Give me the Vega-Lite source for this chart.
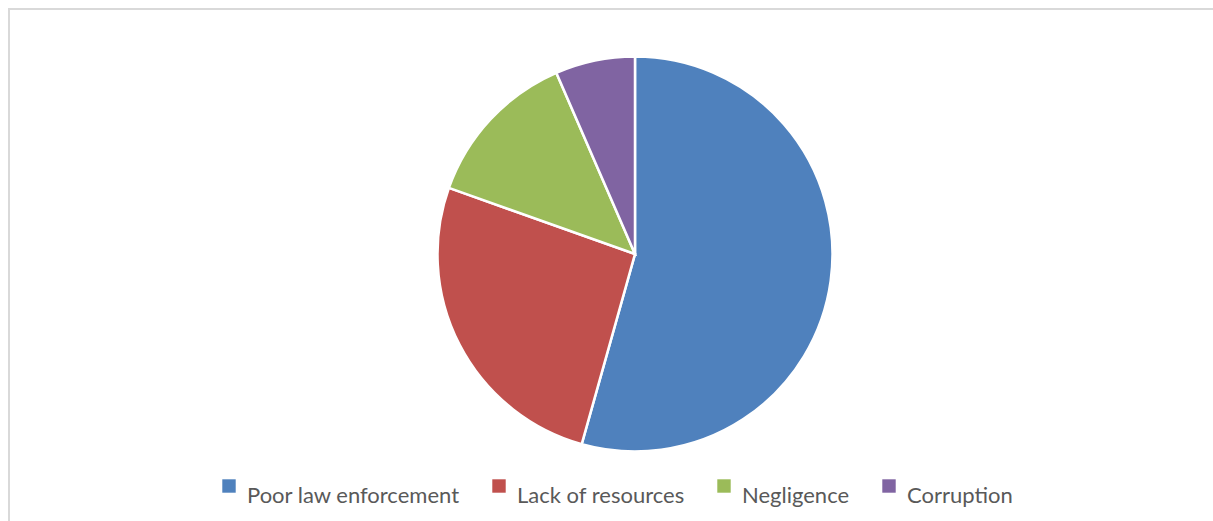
{
  "$schema": "https://vega.github.io/schema/vega-lite/v6.json",
  "width": 1252,
  "height": 514,
  "autosize": {"type": "none"},
  "padding": {"left": 9, "top": 9, "right": -48, "bottom": -2},
  "background": "white",
  "view": {"stroke": "#D9D9D9", "strokeWidth": 2, "fill": "white"},
  "config": {
    "view": {"stroke": "#D9D9D9", "strokeWidth": 2},
    "font": "Lato"
  },
  "data": {
    "values": [
      {"cause": "Poor law enforcement", "count": 25, "idx": 1},
      {"cause": "Lack of resources", "count": 12, "idx": 2},
      {"cause": "Negligence", "count": 6, "idx": 3},
      {"cause": "Corruption", "count": 3, "idx": 4}
    ]
  },
  "mark": {"type": "arc", "radius": 197.5, "stroke": "white", "strokeWidth": 2.5, "yOffset": -12},
  "encoding": {
    "theta": {"field": "count", "type": "quantitative", "stack": true},
    "order": {"field": "idx", "type": "quantitative"},
    "color": {
      "field": "cause",
      "type": "nominal",
      "scale": {
        "domain": ["Poor law enforcement", "Lack of resources", "Negligence", "Corruption"],
        "range": ["#4F81BD", "#C0504D", "#9BBB59", "#8064A2"]
      },
      "legend": {
        "title": null,
        "orient": "none",
        "direction": "horizontal",
        "legendX": 209,
        "legendY": 466,
        "symbolType": "square",
        "symbolSize": 180,
        "symbolStrokeWidth": 0,
        "symbolOpacity": 1,
        "labelFont": "Lato",
        "labelFontSize": 22,
        "labelColor": "#595959",
        "labelBaseline": "top",
        "labelOffset": 7,
        "labelLimit": 400,
        "columnPadding": 28
      }
    }
  }
}
